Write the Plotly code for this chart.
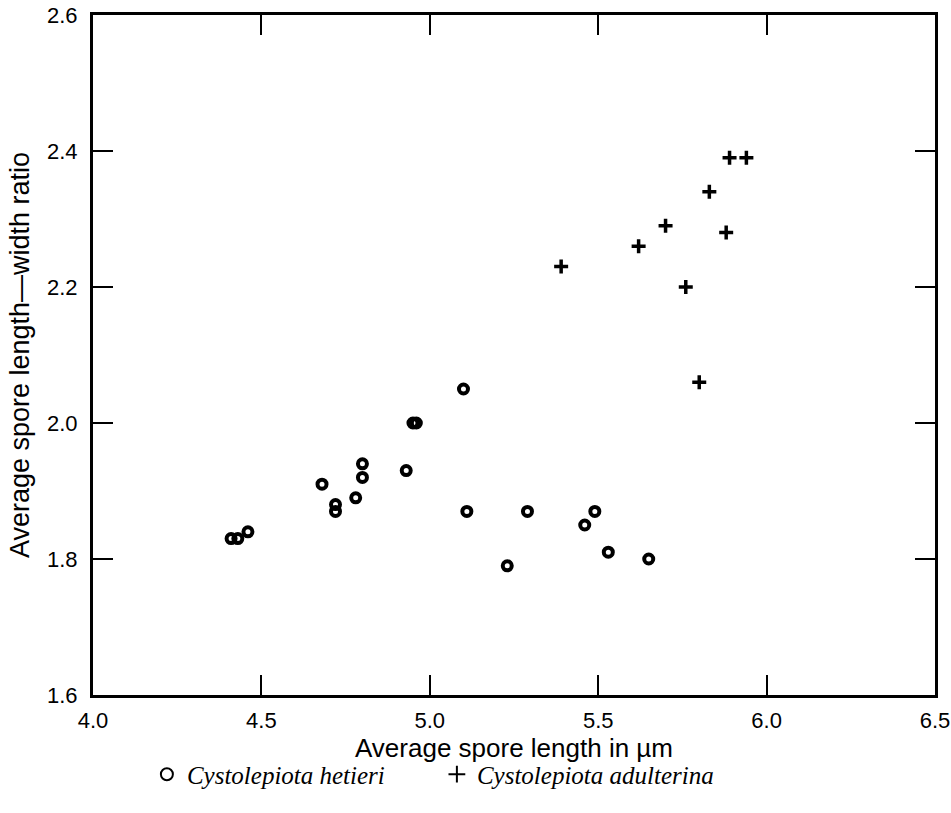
import plotly.graph_objects as go

# Cystolepiota hetieri (open circles)
hetieri_x = [4.41, 4.43, 4.46, 4.68, 4.72, 4.72, 4.78, 4.80, 4.80, 4.93, 4.95, 4.96,
             5.10, 5.11, 5.29, 5.23, 5.49, 5.46, 5.53, 5.65]
hetieri_y = [1.83, 1.83, 1.84, 1.91, 1.88, 1.87, 1.89, 1.94, 1.92, 1.93, 2.00, 2.00,
             2.05, 1.87, 1.87, 1.79, 1.87, 1.85, 1.81, 1.80]

# Cystolepiota adulterina (plus signs)
adulterina_x = [5.39, 5.62, 5.70, 5.83, 5.88, 5.89, 5.94, 5.76, 5.80]
adulterina_y = [2.23, 2.26, 2.29, 2.34, 2.28, 2.39, 2.39, 2.20, 2.06]

x_ticks = [4.0, 4.5, 5.0, 5.5, 6.0, 6.5]
y_ticks = [1.6, 1.8, 2.0, 2.2, 2.4, 2.6]

fig = go.Figure()
fig.add_trace(go.Scatter(
    x=hetieri_x, y=hetieri_y, mode="markers", name="Cystolepiota hetieri",
    marker=dict(symbol="circle-open", size=9, color="black", line=dict(width=4, color="black")),
))
fig.add_trace(go.Scatter(
    x=adulterina_x, y=adulterina_y, mode="markers", name="Cystolepiota adulterina",
    marker=dict(symbol="cross-thin", size=10, color="black", line=dict(width=3.5, color="black")),
))

sans = "Liberation Sans, Arial, sans-serif"
axis_common = dict(
    showgrid=False, zeroline=False, showline=True, linecolor="black", linewidth=3,
    mirror="ticks", ticks="inside", ticklen=20, tickwidth=2, tickcolor="black",
    tickfont=dict(family=sans, size=22, color="black"),
    automargin=False,
)

fig.update_xaxes(
    range=[4.0, 6.5], tickvals=x_ticks, ticktext=[f"{v:.1f}" for v in x_ticks],
    ticklabelstandoff=4,
    title=dict(text="Average spore length in µm", standoff=0,
               font=dict(family=sans, size=26, color="black")),
    **axis_common,
)
fig.update_yaxes(
    range=[1.6, 2.6], tickvals=y_ticks, ticktext=[f"{v:.1f}" for v in y_ticks],
    ticklabelstandoff=8,
    title=dict(text="Average spore length—width ratio", standoff=10,
               font=dict(family=sans, size=27, color="black")),
    **axis_common,
)

fig.update_layout(
    width=951, height=813,
    margin=dict(l=93, r=16, t=15, b=118),
    plot_bgcolor="white", paper_bgcolor="white",
    showlegend=True,
    legend=dict(
        orientation="h", x=0.064, xanchor="left", y=-0.083, yanchor="top",
        font=dict(family="Liberation Serif, Times New Roman, serif", size=25, color="black", style="italic"),
        itemsizing="constant", entrywidth=245, entrywidthmode="pixels",
        bgcolor="rgba(0,0,0,0)",
    ),
)

fig.write_html("out.html", config={"displayModeBar": False},
               post_script="document.body.style.margin='0';")
